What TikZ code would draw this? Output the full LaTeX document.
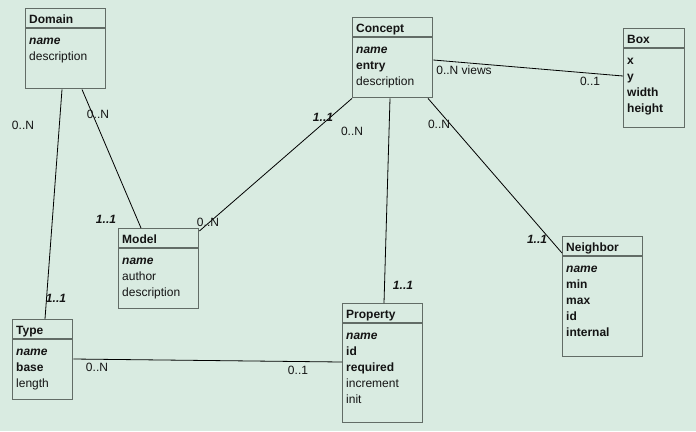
\documentclass[tikz,border=0pt]{standalone}
\usepackage{fontspec}
\setmainfont{Liberation Sans}
\definecolor{bgc}{RGB}{217,235,225}
\definecolor{edgec}{RGB}{98,108,102}
\definecolor{txtc}{RGB}{20,20,20}
\begin{document}
\begin{tikzpicture}[x=1bp,y=-1bp,
  ent/.style={draw=edgec, line width=1.4bp, rectangle, anchor=north west, inner sep=0pt},
  sep/.style={draw=edgec, line width=1.4bp},
  ttl/.style={anchor=base west, inner sep=0pt, font=\fontsize{12bp}{16bp}\selectfont\bfseries, text=txtc},
  attr/.style={anchor=base west, inner sep=0pt, font=\fontsize{12bp}{16bp}\selectfont, text=txtc},
  atb/.style={attr, font=\fontsize{12bp}{16bp}\selectfont\bfseries},
  atk/.style={attr, font=\fontsize{12bp}{16bp}\selectfont\bfseries\itshape},
  lbl/.style={inner sep=0pt, font=\fontsize{12bp}{16bp}\selectfont, text=txtc},
  lblk/.style={lbl, font=\fontsize{12bp}{16bp}\selectfont\bfseries\itshape},
  conn/.style={draw=black, line width=0.8bp}
]
\fill[bgc] (0,0) rectangle (696,431);
\useasboundingbox (0,0) rectangle (696,431);

% Domain
\node[ent, minimum width=80bp, minimum height=80bp] (domain) at (25,8) {};
\draw[sep] (25,28) coordinate (dh1) -- (105,28) coordinate (dh2);
\node[ttl] (domaint) at (29,23.5) {Domain};
\node[atk] (domain1) at (29,44) {name};
\node[attr] (domain2) at (29,60) {description};

% Concept
\node[ent, minimum width=80bp, minimum height=80bp] (concept) at (352,17) {};
\draw[sep] (352,37) coordinate (ch1) -- (432,37) coordinate (ch2);
\node[ttl] (conceptt) at (356,32.5) {Concept};
\node[atk] (concept1) at (356,53) {name};
\node[atb] (concept2) at (356,69) {entry};
\node[attr] (concept3) at (356,85) {description};

% Box
\node[ent, minimum width=61bp, minimum height=99bp] (box) at (623,28) {};
\draw[sep] (623,48) coordinate (bh1) -- (684,48) coordinate (bh2);
\node[ttl] (boxt) at (627,43.5) {Box};
\node[atb] (box1) at (627,64) {x};
\node[atb] (box2) at (627,80) {y};
\node[atb] (box3) at (627,96) {width};
\node[atb] (box4) at (627,112) {height};

% Model
\node[ent, minimum width=80bp, minimum height=80bp] (model) at (118,228) {};
\draw[sep] (118,248) coordinate (mh1) -- (198,248) coordinate (mh2);
\node[ttl] (modelt) at (122,243.5) {Model};
\node[atk] (model1) at (122,264) {name};
\node[attr] (model2) at (122,280) {author};
\node[attr] (model3) at (122,296) {description};

% Type
\node[ent, minimum width=60bp, minimum height=80bp] (type) at (12,319) {};
\draw[sep] (12,339) coordinate (th1) -- (72,339) coordinate (th2);
\node[ttl] (typet) at (16,334.5) {Type};
\node[atk] (type1) at (16,355) {name};
\node[atb] (type2) at (16,371) {base};
\node[attr] (type3) at (16,387) {length};

% Property
\node[ent, minimum width=80bp, minimum height=119bp] (property) at (342,303) {};
\draw[sep] (342,323) coordinate (ph1) -- (422,323) coordinate (ph2);
\node[ttl] (propertyt) at (346,318.5) {Property};
\node[atk] (property1) at (346,339) {name};
\node[atb] (property2) at (346,355) {id};
\node[atb] (property3) at (346,371) {required};
\node[attr] (property4) at (346,387) {increment};
\node[attr] (property5) at (346,403) {init};

% Neighbor
\node[ent, minimum width=80bp, minimum height=120bp] (neighbor) at (562,236) {};
\draw[sep] (562,256) coordinate (nh1) -- (642,256) coordinate (nh2);
\node[ttl] (neighbort) at (566,251.5) {Neighbor};
\node[atk] (neighbor1) at (566,272) {name};
\node[atb] (neighbor2) at (566,288) {min};
\node[atb] (neighbor3) at (566,304) {max};
\node[atb] (neighbor4) at (566,320) {id};
\node[atb] (neighbor5) at (566,336) {internal};

% Connectors
\draw[conn] ([xshift=37bp]domain.south west) -- ([xshift=33bp]type.north west);
\draw[conn] ([xshift=57bp]domain.south west) -- ([xshift=23bp]model.north west);
\draw[conn] (concept.south west) -- ([yshift=-3bp]model.north east);
\draw[conn] ([xshift=38bp]concept.south west) -- ([xshift=42bp]property.north west);
\draw[conn] ([xshift=76bp]concept.south west) -- ([yshift=-17bp]neighbor.north west);
\draw[conn] ([yshift=-43bp]concept.north east) -- ([yshift=-48bp]box.north west);
\draw[conn] ([yshift=-40bp]type.north east) -- ([yshift=-59bp]property.north west);

% Multiplicities
\node[lbl] (l1) at (23,125) {0..N};
\node[lblk] (l2) at (56,298) {1..1};
\node[lbl] (l3) at (98,114) {0..N};
\node[lblk] (l4) at (106,219) {1..1};
\node[lblk] (l5) at (323,117) {1..1};
\node[lbl] (l6) at (208,222) {0..N};
\node[lbl] (l7) at (352,131) {0..N};
\node[lblk] (l8) at (403,285) {1..1};
\node[lbl] (l9) at (439,124) {0..N};
\node[lblk] (l10) at (537,239) {1..1};
\node[lbl] (l11) at (464,70) {0..N views};
\node[lbl] (l12) at (590,81) {0..1};
\node[lbl] (l13) at (97,367) {0..N};
\node[lbl] (l14) at (298,370) {0..1};
\end{tikzpicture}
\end{document}
